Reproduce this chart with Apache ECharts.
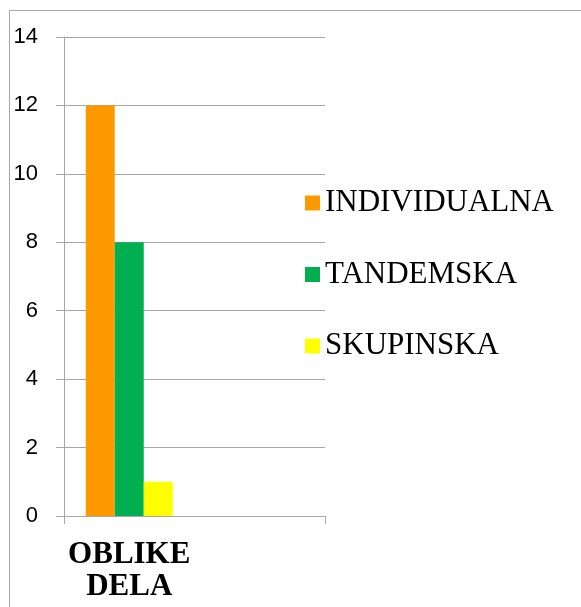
<!DOCTYPE html>
<html>
<head>
<meta charset="utf-8">
<script src="https://cdn.jsdelivr.net/npm/echarts@6/dist/echarts.min.js"></script>
<style>
  html, body { margin: 0; padding: 0; background: #fff; }
  #chart { width: 581px; height: 607px; }
</style>
</head>
<body>
<div id="chart"></div>
<script>
// data
const categories = ['OBLIKE\nDELA', ''];
const individualna = [12, null];
const tandemska = [8, null];
const skupinska = [1, null];
const seriesNames = ['INDIVIDUALNA', 'TANDEMSKA', 'SKUPINSKA'];
const seriesColors = ['#FF9900', '#00B050', '#FFFF00'];

const chart = echarts.init(document.getElementById('chart'));

const gray = '#a6a6a6';
const serif = 'Liberation Serif, DejaVu Serif, serif';

const makeBar = (name, data, color) => ({
    name: name,
    type: 'bar',
    data: data,
    barWidth: 29,
    barGap: 0,
    itemStyle: { color: color }
});

const option = {
    animation: false,
    graphic: [{
        type: 'rect',
        shape: { x: 9.5, y: 10.5, width: 620, height: 640 },
        style: { fill: 'none', stroke: gray, lineWidth: 1 },
        z: -1
    }],
    grid: { left: 64, top: 37, right: 256, bottom: 91 },
    legend: {
        orient: 'vertical',
        left: 300,
        top: 182,
        itemWidth: 15,
        itemHeight: 15,
        itemGap: 39.5,
        icon: 'rect',
        data: seriesNames,
        textStyle: {
            fontFamily: serif,
            fontSize: 31,
            lineHeight: 32,
            color: '#000',
            padding: [0, 0, 0, 0]
        }
    },
    xAxis: {
        type: 'category',
        data: categories,
        axisLine: { lineStyle: { color: gray } },
        axisTick: { show: true, length: 8, lineStyle: { color: gray } },
        axisLabel: {
            margin: 23,
            fontFamily: serif,
            fontWeight: 'bold',
            fontSize: 31,
            lineHeight: 32,
            color: '#000'
        }
    },
    yAxis: {
        type: 'value',
        min: 0,
        max: 14,
        interval: 2,
        axisLine: { show: true, lineStyle: { color: gray } },
        axisTick: { show: true, length: 8, lineStyle: { color: gray } },
        splitLine: { lineStyle: { color: gray } },
        axisLabel: {
            margin: 26,
            fontFamily: 'Liberation Sans, sans-serif',
            fontSize: 22,
            color: '#000'
        }
    },
    series: [
        makeBar(seriesNames[0], individualna, seriesColors[0]),
        makeBar(seriesNames[1], tandemska, seriesColors[1]),
        makeBar(seriesNames[2], skupinska, seriesColors[2])
    ]
};

chart.setOption(option);
</script>
</body>
</html>
